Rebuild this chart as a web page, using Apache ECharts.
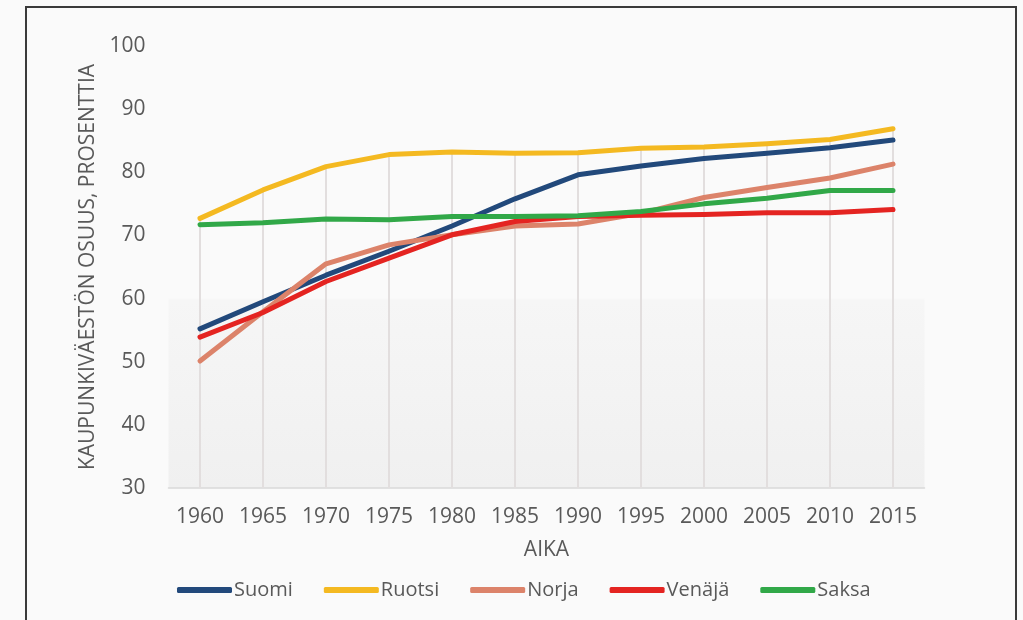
<!DOCTYPE html>
<html style="height: 100%">
<head>
    <meta charset="utf-8">
</head>
<body style="height: 100%; margin: 0; background: #fafafa">
<div id="container" style="width: 1023px; height: 620px"></div>

<script type="text/javascript" src="https://cdn.jsdelivr.net/npm/echarts@6/dist/echarts.min.js"></script>
<script type="text/javascript">
    // years on the x axis
    var years = ['1960', '1965', '1970', '1975', '1980', '1985', '1990', '1995', '2000', '2005', '2010', '2015'];
    // urban population share, percent
    var suomi = [55.2, 59.5, 63.7, 67.5, 71.5, 75.8, 79.6, 81.0, 82.2, 83.0, 83.9, 85.1];
    var ruotsi = [72.7, 77.2, 80.9, 82.8, 83.2, 83.0, 83.1, 83.8, 84.0, 84.5, 85.2, 86.9];
    var norja = [50.1, 57.9, 65.5, 68.5, 70.1, 71.5, 71.8, 73.5, 76.0, 77.6, 79.1, 81.3];
    var venaja = [53.9, 57.8, 62.7, 66.4, 70.1, 72.2, 73.0, 73.2, 73.3, 73.6, 73.6, 74.1];
    var saksa = [71.7, 72.0, 72.6, 72.5, 73.0, 73.0, 73.1, 73.8, 75.0, 75.9, 77.1, 77.1];
    var yTicks = [30, 40, 50, 60, 70, 80, 90, 100];

    var dom = document.getElementById('container');
    var myChart = echarts.init(dom);
    var option;

    // drop lines go from the axis up to the highest series at each year
    var dropLines = [];
    for (var i = 0; i < years.length; i++) {
        dropLines.push(Math.max(suomi[i], ruotsi[i], norja[i], venaja[i], saksa[i]));
    }

    var textColor = '#595959';
    var font = 'Open Sans';

    function lineSeries(name, data, color) {
        return {
            name: name,
            type: 'line',
            data: data,
            symbol: 'none',
            z: 3,
            itemStyle: {color: color},
            lineStyle: {width: 5, color: color, cap: 'round', join: 'round'}
        };
    }

    option = {
        backgroundColor: '#fafafa',
        animation: false,
        textStyle: {fontFamily: font},
        graphic: [
            {
                type: 'rect',
                shape: {x: 26, y: 7, width: 990, height: 640},
                style: {fill: 'none', stroke: '#3a3a3a', lineWidth: 2},
                silent: true
            }
        ],
        grid: {
            left: 168.5,
            right: 98.5,
            top: 46,
            bottom: 132,
            show: true,
            borderWidth: 0,
            backgroundColor: new echarts.graphic.LinearGradient(0, 0, 0, 1, [
                {offset: 0, color: '#fafafa'},
                {offset: 0.57, color: '#fafafa'},
                {offset: 0.575, color: '#f6f6f6'},
                {offset: 1, color: '#f0f0f0'}
            ])
        },
        legend: {
            data: ['Suomi', 'Ruotsi', 'Norja', 'Venäjä', 'Saksa'],
            bottom: 15,
            left: 172,
            icon: 'roundRect',
            itemWidth: 55,
            itemHeight: 6,
            itemGap: 31,
            textStyle: {fontSize: 20, color: textColor, fontFamily: font, padding: [0, 0, 0, -3]}
        },
        xAxis: {
            type: 'category',
            data: years,
            boundaryGap: true,
            name: 'AIKA',
            nameLocation: 'middle',
            nameGap: 52,
            nameTextStyle: {fontSize: 21, color: textColor},
            axisLine: {lineStyle: {color: '#d9d9d9', width: 1.5}},
            axisTick: {show: false},
            axisLabel: {fontSize: 21, color: textColor, margin: 19},
            splitLine: {show: false}
        },
        yAxis: {
            type: 'value',
            min: yTicks[0],
            max: yTicks[yTicks.length - 1],
            interval: 10,
            name: 'KAUPUNKIVÄESTÖN OSUUS, PROSENTTIA',
            nameLocation: 'middle',
            nameGap: 70,
            nameTextStyle: {fontSize: 21, color: textColor},
            axisLine: {show: false},
            axisTick: {show: false},
            axisLabel: {fontSize: 21, color: textColor, margin: 23},
            splitLine: {show: false}
        },
        series: [
            {
                name: 'drop',
                type: 'bar',
                data: dropLines,
                barWidth: 2,
                silent: true,
                z: 1,
                itemStyle: {color: '#e2dede'}
            },
            lineSeries('Suomi', suomi, '#22497b'),
            lineSeries('Ruotsi', ruotsi, '#f4b921'),
            lineSeries('Norja', norja, '#dc836a'),
            lineSeries('Venäjä', venaja, '#e42421'),
            lineSeries('Saksa', saksa, '#31a848')
        ]
    };

    if (option && typeof option === 'object') {
        myChart.setOption(option);
    }
</script>
</body>
</html>
